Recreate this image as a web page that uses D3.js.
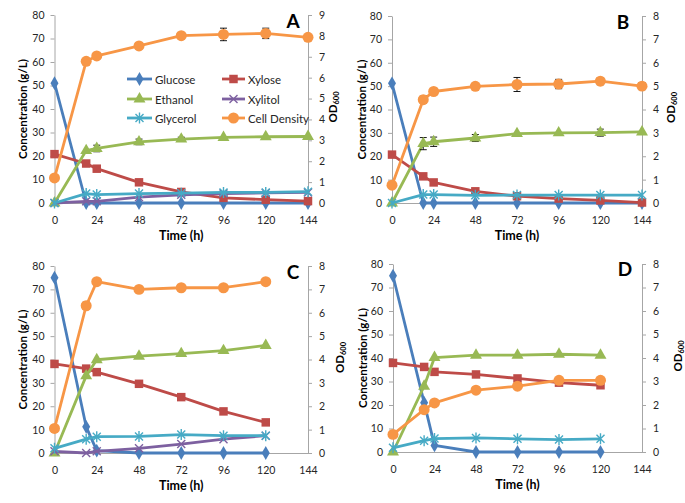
<!DOCTYPE html>
<html><head><meta charset="utf-8">
<script src="https://cdn.jsdelivr.net/npm/d3@7"></script>
<style>body{margin:0;background:#fff} svg{display:block;font-family:Lato,"Open Sans",sans-serif}</style>
</head><body><svg id="c" width="685" height="503"></svg>
<script>
// ---- data ----
const timeAB = [0, 18, 24, 48, 72, 96, 120, 144];
const timeCD = [0, 18, 24, 48, 72, 96, 120];
const xTickValues = [0, 24, 48, 72, 96, 120, 144];
const concTicks = [0, 10, 20, 30, 40, 50, 60, 70, 80];
const seriesNames = ["Glucose", "Xylose", "Ethanol", "Xylitol", "Glycerol", "Cell Density"];
const panelLabels = ["A", "B", "C", "D"];
const odMaxes = [9, 8, 8, 8];

// Panel A
const glucoseA = [51, 0, 0, 0, 0, 0, 0, 0];
const xyloseA  = [20.8, 16.8, 14.6, 8.8, 4.7, 2.2, 1.4, 0.8];
const ethanolA = [0, 22.3, 23.2, 26.0, 27.2, 27.9, 28.2, 28.3];
const xylitolA = [0, 0.7, 0.7, 2.5, 3.5, 4.0, 4.3, 4.5];
const glycerolA= [0, 4.0, 3.6, 4.0, 4.2, 4.5, 4.5, 4.8];
const cellA    = [1.2, 6.78, 7.04, 7.52, 8.01, 8.07, 8.12, 7.93];
const cellErrA = [0, 0.08, 0, 0.06, 0.08, 0.3, 0.25, 0.06];
const ethErrA  = [0, 0, 1.4, 1.2, 0.8, 0, 0, 0];

// Panel B
const glucoseB = [51.2, 0, 0, 0, 0, 0, 0, 0];
const xyloseB  = [20.7, 11.4, 8.8, 5.0, 2.9, 1.9, 1.1, 0.2];
const ethanolB = [0, 25.4, 26.2, 27.8, 29.7, 30.0, 30.1, 30.4];
const xylitolB = [null, null, null, null, null, null, null, null];
const glycerolB= [0, 3.6, 3.6, 3.3, 3.4, 3.4, 3.4, 3.4];
const cellB    = [0.76, 4.42, 4.77, 4.99, 5.07, 5.09, 5.21, 5.0];
const cellErrB = [0, 0.15, 0, 0.08, 0.3, 0.2, 0.15, 0.15];
const ethErrB  = [0, 2.6, 2.0, 1.5, 0, 0, 1.5, 0];

// Panel C
const glucoseC = [75, 11.2, 1.0, 0, 0, 0, 0];
const xyloseC  = [38.1, 36.1, 34.6, 29.6, 23.9, 17.8, 13.1];
const ethanolC = [0, 33.0, 39.9, 41.4, 42.5, 43.8, 46.0];
const xylitolC = [0.7, 0, 0.7, 2.0, 3.8, 5.9, 7.4];
const glycerolC= [2.0, 5.9, 7.0, 7.1, 7.9, 7.4, 7.4];
const cellC    = [1.05, 6.3, 7.33, 7.0, 7.07, 7.07, 7.33];
const cellErrC = [0, 0.15, 0, 0, 0, 0, 0];
const ethErrC  = [0, 0, 0, 0, 0, 0, 0];

// Panel D
const glucoseD = [75, 21.0, 2.8, 0, 0, 0, 0];
const xyloseD  = [37.9, 36.2, 34.1, 33.0, 31.3, 29.5, 28.4];
const ethanolD = [0, 28.0, 40.2, 41.2, 41.2, 41.6, 41.2];
const xylitolD = [null, null, null, null, null, null, null];
const glycerolD= [1.8, 4.8, 5.7, 6.0, 5.6, 5.3, 5.6];
const cellD    = [0.75, 1.8, 2.09, 2.63, 2.8, 3.05, 3.05];
const cellErrD = [0, 0, 0, 0, 0, 0, 0];
const ethErrD  = [0, 0, 0, 0, 0, 0, 0];

// ---- style ----
const colors = ["#4a7ebb", "#be4b48", "#98b954", "#7d60a0", "#46aac5", "#f79646"];
const axisColor = "#a6a6a6";
const textColor = "#262626";

const panels = [
  {time: timeAB, series: [glucoseA, xyloseA, ethanolA, xylitolA, glycerolA, cellA], cellErr: cellErrA, ethErr: ethErrA,
   box: {l: 54.5, r: 308, t: 15, b: 203}, odTitleX: 332, letterX: 293, letterY: 28, concTitleX: 22},
  {time: timeAB, series: [glucoseB, xyloseB, ethanolB, xylitolB, glycerolB, cellB], cellErr: cellErrB, ethErr: ethErrB,
   box: {l: 392, r: 642, t: 16, b: 203}, odTitleX: 670, letterX: 623, letterY: 29, concTitleX: 361},
  {time: timeCD, series: [glucoseC, xyloseC, ethanolC, xylitolC, glycerolC, cellC], cellErr: cellErrC, ethErr: ethErrC,
   box: {l: 54.5, r: 308, t: 266, b: 453}, odTitleX: 339, letterX: 293, letterY: 279, concTitleX: 22},
  {time: timeCD, series: [glucoseD, xyloseD, ethanolD, xylitolD, glycerolD, cellD], cellErr: cellErrD, ethErr: ethErrD,
   box: {l: 393, r: 642, t: 264, b: 452}, odTitleX: 677, letterX: 625, letterY: 276, concTitleX: 362}
];

const svg = d3.select("#c");
svg.append("rect").attr("width", 685).attr("height", 503).attr("fill", "#fff");

function marker(g, type, color) {
  if (type === 0) g.append("path").attr("d", d3.symbol(d3.symbolDiamond, 55)()).attr("fill", color);
  else if (type === 1) g.append("path").attr("d", d3.symbol(d3.symbolSquare, 72)()).attr("fill", color);
  else if (type === 2) g.append("path").attr("d", d3.symbol(d3.symbolTriangle, 62)()).attr("fill", color);
  else if (type === 3) g.append("path").attr("d", "M-4,-4L4,4M-4,4L4,-4").attr("stroke", color).attr("stroke-width", 1.4).attr("fill", "none");
  else if (type === 4) g.append("path").attr("d", "M-4,-4L4,4M-4,4L4,-4M0,-5.5L0,5.5").attr("stroke", color).attr("stroke-width", 1.4).attr("fill", "none");
  else g.append("path").attr("d", d3.symbol(d3.symbolCircle, 95)()).attr("fill", color);
}

panels.forEach((p, pi) => {
  const b = p.box;
  const x = d3.scaleLinear().domain([0, 144]).range([b.l, b.r]);
  const yC = d3.scaleLinear().domain([0, 80]).range([b.b, b.t]);
  const yOD = d3.scaleLinear().domain([0, odMaxes[pi]]).range([b.b, b.t]);
  const g = svg.append("g");

  // axes
  const left = g.append("g").attr("transform", `translate(${b.l},0)`)
    .call(d3.axisLeft(yC).tickValues(concTicks).tickSize(4).tickSizeOuter(0).tickPadding(6));
  const right = g.append("g").attr("transform", `translate(${b.r},0)`)
    .call(d3.axisRight(yOD).tickValues(d3.range(0, odMaxes[pi] + 1)).tickSize(4).tickSizeOuter(0).tickPadding(7));
  const bottom = g.append("g").attr("transform", `translate(0,${b.b})`)
    .call(d3.axisBottom(x).tickValues(xTickValues).tickSize(0).tickPadding(14));
  [left, right, bottom].forEach(a => {
    a.selectAll("path.domain").attr("stroke", axisColor);
    a.selectAll(".tick line").attr("stroke", axisColor);
    a.selectAll("text").attr("fill", textColor).style("font-size", "10.5px").style("font-family", "Lato, 'Open Sans', sans-serif");
  });

  // titles
  g.append("text").attr("x", (b.l + b.r) / 2).attr("y", b.b + 37).attr("text-anchor", "middle")
    .attr("fill", "#000").style("font-size", "12.5px").style("font-weight", "bold").text("Time (h)");
  g.append("text").attr("transform", `translate(${p.concTitleX},${(b.t + b.b) / 2}) rotate(-90)`)
    .attr("text-anchor", "middle").attr("dominant-baseline", "central")
    .attr("fill", "#000").style("font-size", "11.5px").style("font-weight", "bold").text("Concentration (g/L)");
  const od = g.append("text").attr("transform", `translate(${p.odTitleX},${(b.t + b.b) / 2 - 2}) rotate(-90)`)
    .attr("text-anchor", "middle").attr("dominant-baseline", "central")
    .attr("fill", "#000").style("font-size", "11.5px").style("font-weight", "bold");
  od.append("tspan").text("OD");
  od.append("tspan").attr("baseline-shift", "sub").style("font-size", "7.5px").text("600");
  g.append("text").attr("x", p.letterX).attr("y", p.letterY).attr("text-anchor", "middle")
    .attr("fill", "#000").style("font-size", "19px").style("font-weight", "bold").text(panelLabels[pi]);

  // series
  p.series.forEach((vals, si) => {
    const y = si === 5 ? yOD : yC;
    const pts = p.time.map((t, i) => ({t, v: vals[i], i})).filter(d => d.v != null);
    if (!pts.length) return;
    const line = d3.line().x(d => x(d.t)).y(d => y(d.v));
    g.append("path").attr("d", line(pts)).attr("fill", "none").attr("stroke", colors[si])
      .attr("stroke-width", 2.8).attr("stroke-linejoin", "round");
    const errs = si === 5 ? p.cellErr : (si === 2 ? p.ethErr : null);
    if (errs) {
      pts.forEach(d => {
        const e = errs[d.i];
        if (!e) return;
        const px = x(d.t), y1 = y(d.v - e), y2 = y(d.v + e);
        g.append("path").attr("d", `M${px},${y1}L${px},${y2}M${px - 3.5},${y1}L${px + 3.5},${y1}M${px - 3.5},${y2}L${px + 3.5},${y2}`)
          .attr("stroke", "#000").attr("stroke-width", 0.9).attr("fill", "none");
      });
    }
    pts.forEach(d => {
      const m = g.append("g").attr("transform", `translate(${x(d.t)},${y(d.v)})`);
      marker(m, si, colors[si]);
    });
  });

  // legend (panel A only)
  if (pi === 0) {
    const lg = svg.append("g");
    const rows = [79, 99, 118];
    const cols = [{x0: 127, x1: 152, tx: 155}, {x0: 222, x1: 245, tx: 248}];
    seriesNames.forEach((name, si) => {
      const r = rows[Math.floor(si / 2)], c = cols[si % 2];
      lg.append("line").attr("x1", c.x0).attr("x2", c.x1).attr("y1", r).attr("y2", r)
        .attr("stroke", colors[si]).attr("stroke-width", 2.8);
      const m = lg.append("g").attr("transform", `translate(${(c.x0 + c.x1) / 2},${r})`);
      marker(m, si, colors[si]);
      lg.append("text").attr("x", c.tx).attr("y", r).attr("dominant-baseline", "central")
        .attr("fill", textColor).style("font-size", "11.5px").text(name);
    });
  }
});
</script>
</body></html>
